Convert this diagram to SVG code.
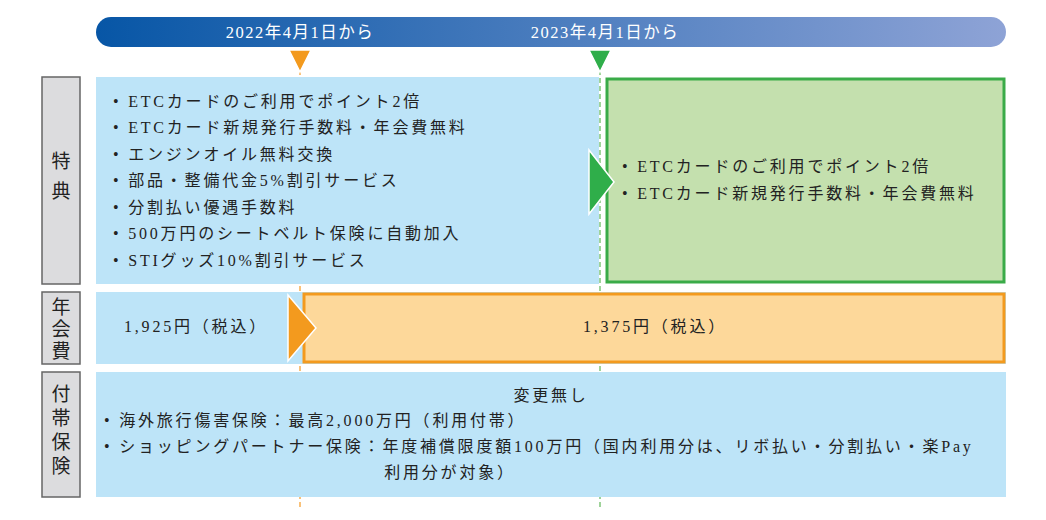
<svg xmlns="http://www.w3.org/2000/svg" width="1046" height="520" viewBox="0 0 1046 520">
<style>
text{font-family:"Liberation Serif","Noto Sans CJK JP",serif;font-size:16px;fill:#222;letter-spacing:2.8px}
.w{fill:#fff;font-size:16.5px;letter-spacing:1.5px}
.lab{fill:#dcdcde;stroke:#666;stroke-width:1.5}
.blue{fill:#bde4f8}
.lt{font-size:19px;letter-spacing:0}
</style>
<defs>
<linearGradient id="g" x1="0" x2="1"><stop offset="0" stop-color="#0756a6"/><stop offset="1" stop-color="#8ea3d6"/></linearGradient>
</defs>
<rect x="0" y="0" width="1046" height="520" fill="#fff"/>
<g id="timeline">
<rect x="96" y="17" width="910" height="30" rx="15" fill="url(#g)"/>
<text class="w" x="300" y="38" text-anchor="middle">2022年4月1日から</text>
<text class="w" x="605" y="38" text-anchor="middle">2023年4月1日から</text>
</g>
<g id="connectors">
<line x1="300" y1="70" x2="300" y2="510" stroke="#f9c27a" stroke-width="2" stroke-dasharray="5 3"/>
<line x1="600" y1="70" x2="600" y2="510" stroke="#9fd39a" stroke-width="2" stroke-dasharray="5 3"/>
</g>
<g id="row1">
<rect class="lab" x="42" y="77" width="38" height="207"/>
<text class="lt" x="61" y="168" text-anchor="middle">特</text>
<text class="lt" x="61" y="198" text-anchor="middle">典</text>
<rect class="blue" x="96" y="77" width="503" height="207"/>
<text x="113" y="107">• ETCカードのご利用でポイント2倍</text>
<text x="113" y="133">• ETCカード新規発行手数料・年会費無料</text>
<text x="113" y="160">• エンジンオイル無料交換</text>
<text x="113" y="186">• 部品・整備代金5%割引サービス</text>
<text x="113" y="213">• 分割払い優遇手数料</text>
<text x="113" y="239">• 500万円のシートベルト保険に自動加入</text>
<text x="113" y="266">• STIグッズ10%割引サービス</text>
<rect x="607" y="79" width="397" height="203" fill="#c4e0ae" stroke="#3aab48" stroke-width="3"/>
<text x="622" y="172">• ETCカードのご利用でポイント2倍</text>
<text x="622" y="199">• ETCカード新規発行手数料・年会費無料</text>
</g>
<g id="row2">
<rect class="lab" x="42" y="292" width="38" height="72"/>
<text class="lt" x="61" y="314" text-anchor="middle">年</text>
<text class="lt" x="61" y="336" text-anchor="middle">会</text>
<text class="lt" x="61" y="358" text-anchor="middle">費</text>
<rect class="blue" x="96" y="292" width="910" height="72"/>
<text x="196" y="332" text-anchor="middle">1,925円（税込）</text>
<rect x="304" y="294" width="700" height="68" fill="#fdd89a" stroke="#f39a1e" stroke-width="3"/>
<text x="655" y="332" text-anchor="middle">1,375円（税込）</text>
</g>
<g id="row3">
<rect class="lab" x="42" y="372" width="38" height="125"/>
<text class="lt" x="61" y="401" text-anchor="middle">付</text>
<text class="lt" x="61" y="425" text-anchor="middle">帯</text>
<text class="lt" x="61" y="449" text-anchor="middle">保</text>
<text class="lt" x="61" y="473" text-anchor="middle">険</text>
<rect class="blue" x="96" y="372" width="910" height="125"/>
<text x="551" y="401" text-anchor="middle">変更無し</text>
<text x="104" y="426">• 海外旅行傷害保険：最高2,000万円（利用付帯）</text>
<text x="104" y="452">• ショッピングパートナー保険：年度補償限度額100万円（国内利用分は、リボ払い・分割払い・楽Pay</text>
<text x="450" y="478" text-anchor="middle">利用分が対象）</text>
</g>
<g id="markers">
<polygon points="289,50 311,50 300,72" fill="#f39a1e" stroke="#fff" stroke-width="1.5"/>
<polygon points="589,50 611,50 600,72" fill="#2fae4a" stroke="#fff" stroke-width="1.5"/>
<polygon points="589,150 614,182 589,214" fill="#2fae4a" stroke="#fff" stroke-width="1.5"/>
<polygon points="288,295 316,328 288,361" fill="#f39a1e" stroke="#fff" stroke-width="1.5"/>
</g>
</svg>
